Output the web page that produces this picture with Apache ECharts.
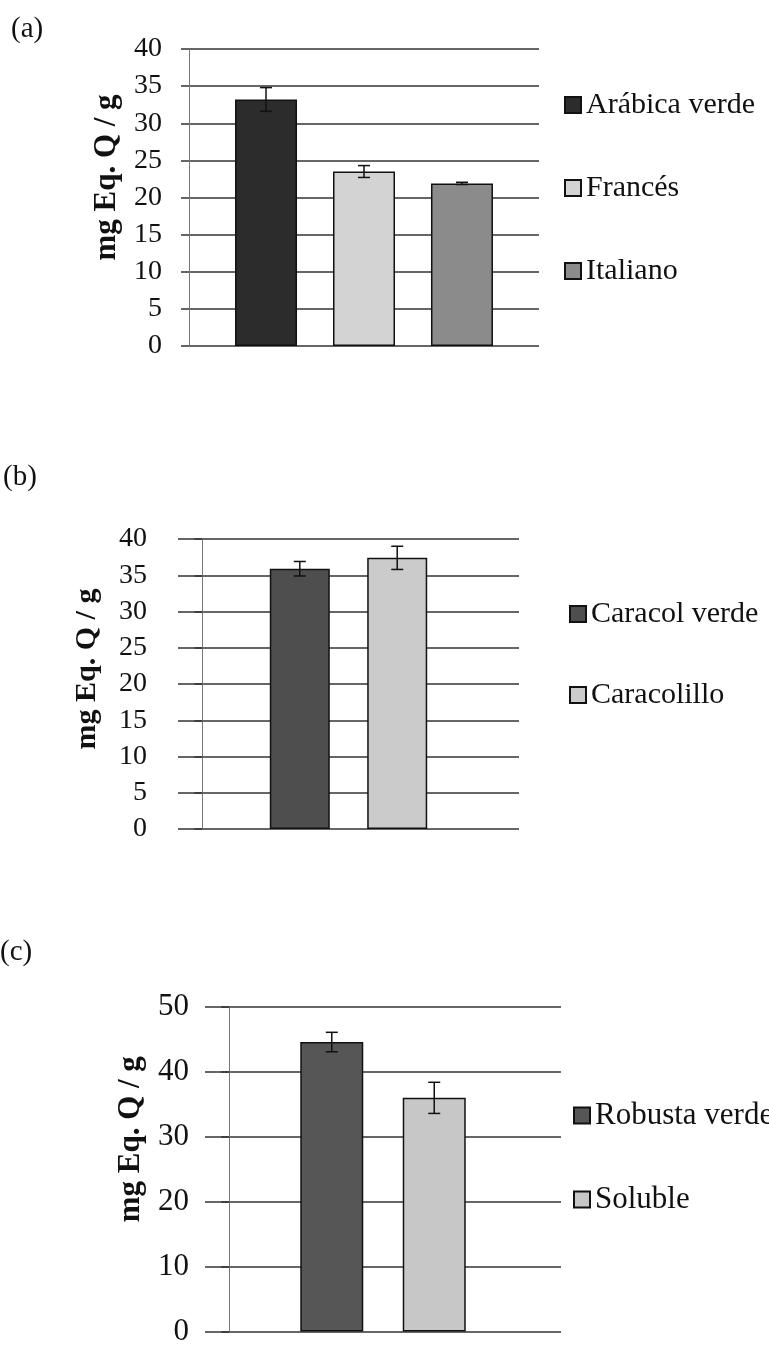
<!DOCTYPE html>
<html><head><meta charset="utf-8">
<script src="https://cdn.jsdelivr.net/npm/echarts/dist/echarts.min.js"></script>
<style>html,body{margin:0;padding:0;background:#fff}#c{width:769px;height:1347px}</style>
</head><body><div id="c"></div>
<script>
// ---- data ----
const namesA = ['Arábica verde', 'Francés', 'Italiano'];
const valuesA = [33.2, 23.5, 21.9];
const errorsA = [1.6, 0.8, 0.15];
const ticksA = [0, 5, 10, 15, 20, 25, 30, 35, 40];

const namesB = ['Caracol verde', 'Caracolillo'];
const valuesB = [35.9, 37.4];
const errorsB = [1.0, 1.6];
const ticksB = [0, 5, 10, 15, 20, 25, 30, 35, 40];

const namesC = ['Robusta verde', 'Soluble'];
const valuesC = [44.6, 36.0];
const errorsC = [1.5, 2.4];
const ticksC = [0, 10, 20, 30, 40, 50];

const yTitle = 'mg Eq. Q / g';
const panelLabels = ['(a)', '(b)', '(c)'];

// ---- layout / style ----
const SERIF = '"Liberation Serif", "Times New Roman", serif';
const panels = [
  { names: namesA, values: valuesA, errors: errorsA, ticks: ticksA,
    colors: ['#2c2c2c', '#d3d3d3', '#8b8b8b'],
    grid: { left: 189, top: 49, width: 350, height: 297 },
    xRange: [0.214, 3.786], barWidth: 62, tickFont: 28, tickMargin: 27,
    nameGap: 67, namePad: 40, nameFont: 31,
    legend: { left: 564, top: 90, gap: 53, font: 30 },
    label: { left: 11, top: 15 } },
  { names: namesB, values: valuesB, errors: errorsB, ticks: ticksB,
    colors: ['#4e4e4e', '#cbcbcb'],
    grid: { left: 178, top: 539, width: 341, height: 290 },
    xRange: [-0.25, 3.25], barWidth: 60, tickFont: 28, tickMargin: 31,
    nameGap: 76, namePad: 30, nameFont: 30,
    legend: { left: 569, top: 599, gap: 51, font: 30 },
    label: { left: 3, top: 463 } },
  { names: namesC, values: valuesC, errors: errorsC, ticks: ticksC,
    colors: ['#565656', '#c7c7c7'],
    grid: { left: 205, top: 1007, width: 356, height: 325 },
    xRange: [-0.237, 3.237], barWidth: 63, tickFont: 31, tickMargin: 16,
    nameGap: 59, namePad: 60, nameFont: 31,
    legend: { left: 573, top: 1100, gap: 53, font: 31 },
    label: { left: 0, top: 938 } }
];

const grids = [], xAxes = [], yAxes = [], legends = [], titles = [], series = [];
panels.forEach((p, k) => {
  grids.push(Object.assign({ containLabel: false }, p.grid));
  xAxes.push({ gridIndex: k, type: 'value', min: p.xRange[0], max: p.xRange[1],
    axisLine: { show: false }, axisTick: { show: false }, axisLabel: { show: false }, splitLine: { show: false } });
  const iv = p.ticks[1] - p.ticks[0];
  yAxes.push({ gridIndex: k, type: 'value', min: p.ticks[0], max: p.ticks[p.ticks.length - 1], interval: iv,
    axisLine: { show: true, lineStyle: { color: '#777', width: 1 } },
    axisTick: { show: true, length: 8, lineStyle: { color: '#333', width: 1.5 } },
    splitLine: { show: true, lineStyle: { color: '#333', width: 1.5 } },
    axisLabel: { fontFamily: SERIF, fontSize: p.tickFont, color: '#111', margin: p.tickMargin },
    name: yTitle, nameLocation: 'middle', nameRotate: 90, nameGap: p.nameGap,
    nameTextStyle: { fontFamily: SERIF, fontWeight: 'bold', fontSize: p.nameFont, color: '#111',
      padding: [0, 0, 0, p.namePad] } });
  legends.push({ orient: 'vertical', left: p.legend.left, top: p.legend.top, padding: 0,
    data: p.names, icon: 'rect', itemWidth: 16, itemHeight: 16, itemGap: p.legend.gap,
    selectedMode: false,
    textStyle: { fontFamily: SERIF, fontSize: p.legend.font, color: '#111', lineHeight: 30 } });
  titles.push({ text: panelLabels[k], left: p.label.left, top: p.label.top, padding: 0,
    textStyle: { fontFamily: SERIF, fontSize: 29, fontWeight: 'normal', color: '#111' } });
  p.names.forEach((n, i) => {
    series.push({ type: 'bar', name: n, xAxisIndex: k, yAxisIndex: k,
      data: [[i + 1, p.values[i]]], barWidth: p.barWidth, barGap: '-100%',
      itemStyle: { color: p.colors[i], borderColor: '#111', borderWidth: 1.5 },
      emphasis: { disabled: true }, silent: true });
  });
  series.push({ type: 'custom', xAxisIndex: k, yAxisIndex: k, z: 5, silent: true,
    data: p.values.map((v, i) => [i + 1, v, p.errors[i]]),
    encode: { x: 0, y: 1 },
    renderItem: function (params, api) {
      const x = api.value(0), v = api.value(1), e = api.value(2);
      const t = api.coord([x, v + e]), b = api.coord([x, v - e]);
      const h = 6, st = { stroke: '#111', lineWidth: 1.5 };
      return { type: 'group', children: [
        { type: 'line', shape: { x1: t[0], y1: t[1], x2: b[0], y2: b[1] }, style: st },
        { type: 'line', shape: { x1: t[0] - h, y1: t[1], x2: t[0] + h, y2: t[1] }, style: st },
        { type: 'line', shape: { x1: b[0] - h, y1: b[1], x2: b[0] + h, y2: b[1] }, style: st }
      ] };
    } });
});

const chart = echarts.init(document.getElementById('c'), null, { renderer: 'canvas' });
chart.setOption({
  backgroundColor: '#ffffff', animation: false,
  title: titles, grid: grids, xAxis: xAxes, yAxis: yAxes, legend: legends, series: series
});
</script></body></html>
